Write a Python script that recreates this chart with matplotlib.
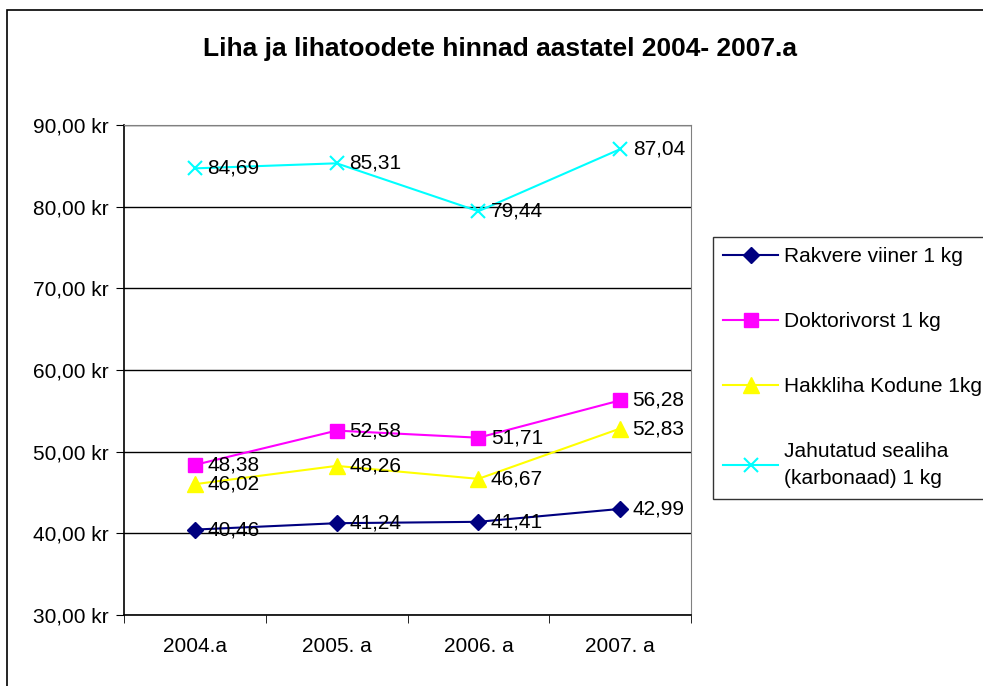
import numpy as np
import matplotlib.pyplot as plt
from matplotlib.patches import Rectangle

plt.rcParams['font.family'] = ['Liberation Sans', 'DejaVu Sans']

# Data
years = ['2004.a', '2005. a', '2006. a', '2007. a']
rakvere = [40.46, 41.24, 41.41, 42.99]
doktor = [48.38, 52.58, 51.71, 56.28]
hakkliha = [46.02, 48.26, 46.67, 52.83]
sealiha = [84.69, 85.31, 79.44, 87.04]
names = ['Rakvere viiner 1 kg', 'Doktorivorst 1 kg', 'Hakkliha Kodune 1kg',
         'Jahutatud sealiha\n(karbonaad) 1 kg']

fig = plt.figure(figsize=(9.83, 6.86), dpi=100)
# outer chart border
fig.patches.append(Rectangle((7/983, -0.05), 1.1, (686-10)/686 + 0.05, transform=fig.transFigure,
                             fill=False, edgecolor='black', linewidth=1.2))

ax = fig.add_axes([124/983, 71/686, 567/983, 490/686])
x = np.arange(len(years))

series = [
    (rakvere, '#000080', 'D', 8),
    (doktor, '#FF00FF', 's', 10),
    (hakkliha, '#FFFF00', '^', 11),
    (sealiha, '#00FFFF', 'x', 10),
]
for (vals, col, mk, ms), name in zip(series, names):
    ax.plot(x, vals, color=col, marker=mk, markersize=ms, linewidth=1.5,
            markeredgewidth=1.5 if mk == 'x' else 1, label=name)
    for xi, v in zip(x, vals):
        ax.annotate('{0:.2f}'.format(v).replace('.', ','), (xi, v), xytext=(9, 0),
                    textcoords='offset points', va='center', ha='left', fontsize=15)

ax.set_xlim(-0.5, 3.5)
ax.set_ylim(30, 90)
ax.set_yticks(np.arange(30, 91, 10))
ax.set_yticklabels(['{0:.2f} kr'.format(v).replace('.', ',') for v in np.arange(30, 91, 10)], fontsize=15)
ax.set_xticks(x)
ax.set_xticklabels(years, fontsize=15)
ax.set_xticks(np.arange(-0.5, 3.6, 1), minor=True)
ax.tick_params(axis='x', which='major', length=0, pad=16)
ax.tick_params(axis='x', which='minor', length=6, direction='out')
ax.tick_params(axis='y', length=6, direction='out', pad=5)
ax.yaxis.grid(True, color='black', linewidth=1)
ax.set_axisbelow(True)
for s in ['top', 'right']:
    ax.spines[s].set_color('gray')
ax.spines['left'].set_linewidth(1.2)
ax.spines['bottom'].set_linewidth(1.2)

fig.text(500/983, 1 - 56/686, 'Liha ja lihatoodete hinnad aastatel 2004- 2007.a',
         ha='center', va='baseline', fontsize=19, fontweight='bold')

leg = ax.legend(loc='upper left', bbox_to_anchor=(713/983, 1 - 237/686), bbox_transform=fig.transFigure,
                fontsize=15, frameon=True, fancybox=False, edgecolor='black',
                labelspacing=2.2, handlelength=2.6, borderpad=0.5, handletextpad=0.3,
                borderaxespad=0)
leg.get_frame().set_linewidth(1)
leg.get_texts()[3].set_linespacing(1.55)

fig.savefig('out.png', dpi=100)
